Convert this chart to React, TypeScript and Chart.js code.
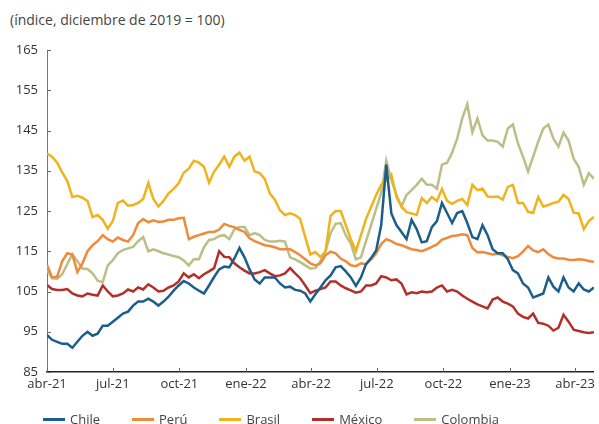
import React, { useEffect, useRef } from "react";
import { Chart, registerables } from "chart.js";

Chart.register(...registerables);

// Weekly observations starting 1 Apr 2021 (x = days since start)
const STEP_DAYS = 7;
const tickDays = [0, 91, 183, 275, 365, 456, 548, 640, 730];
const tickLabels = ["abr-21", "jul-21", "oct-21", "ene-22", "abr-22", "jul-22", "oct-22", "ene-23", "abr-23"];
const yTicks = [85, 95, 105, 115, 125, 135, 145, 155, 165];

const chile = [
  94.2, 93, 92.5, 92, 92, 91, 92.5, 94, 95, 94, 94.5, 96.5, 96.5, 97.5, 98.5, 99.5, 100, 101.5, 102.5,
  102.5, 103.2, 102.5, 101.5, 102.5, 103.7, 105.2, 106.5, 107.6, 107, 106, 105.2, 104.5, 106.5, 108.6, 110.5, 111.2, 111,
  113.2, 115.8, 113.5, 110.5, 108, 107, 108.5, 108.5, 108.5, 107, 106,
  106.2, 105.4, 105.2, 104.5, 102.5, 104.3, 106, 107.8, 109, 111, 111.3, 110, 108.5, 106.4, 108.5, 111.8, 113.3, 115.2, 121.5,
  136.5,
  124.4, 121.5, 119.8, 118, 122.8, 120.5, 117.2, 117.5, 121, 122.5, 127, 124.5, 122, 124.5, 125, 122, 118.5, 118, 121.5, 119, 115.5, 114.5, 114.5, 113,
  110.3, 109.5, 107, 106, 103.5, 104, 104.5, 108.5, 106.2, 105, 108.5, 106, 105, 107, 105.5, 105, 106,
];
const peru = [
  111.6, 108.5, 108.7, 112.5, 114.5, 114.2, 109.8, 112, 115, 116.5, 117.5, 119, 118, 117.4, 118.4, 117.8, 117.4, 119, 122,
  123, 122.2, 122.7, 122.3, 122.4, 122.8, 122.8, 123.2, 123.3, 118, 118.6, 119, 119.4, 119.8, 119.8, 120.4, 121.8, 121.3,
  121, 120.3, 119.8, 118.2, 117.5, 117, 116.5, 116.3, 116, 115.5, 115.5,
  115.5, 114.8, 114, 113, 112, 111.5, 112, 114, 114.9, 114.5, 113.2, 112.5, 111.5, 111.3, 112, 111.8, 113, 114.5, 116.8, 118,
  117.5, 116.8, 116.5, 116, 115.5, 115.3, 115,
  115.5, 116.1, 116.7, 117.9, 118.3, 118.8, 118.9, 119.2, 119, 115.8, 114.7, 114.8, 114.5, 114.2, 114.4, 114, 113.6,
  113.3, 113.8, 114.9, 116.3, 115.2, 114.8, 115.5, 114.3, 113.5, 113.2, 113.2, 112.9, 112.8, 113, 112.9, 112.6, 112.3,
];
const brasil = [
  139.3, 138.5, 137, 134.6, 132.5, 128.5, 128.8, 128.3, 127.5, 123.5, 124, 122.8, 120.6, 122.5, 127, 127.6, 126.3, 126.5, 127,
  128, 132, 128, 126.1, 127.5, 129.4, 130.5, 131.9, 134.5, 135.5, 137.5, 137, 136, 132, 134.8, 136.5, 138.5, 136,
  138.5, 139.5, 137.5, 138.5, 134.8, 134.4, 133, 129.4, 127.8, 125.2, 124,
  124.4, 124, 123, 118.5, 114.2, 114.8, 113.6, 115, 123.8, 125, 125, 121.5, 118, 115, 119, 123, 126, 129, 131.5,
  132.5, 134, 128.5, 126.1, 124.7, 124.4, 124, 128.2, 127, 128.5, 127.5, 130.5, 127.5, 126.8, 127.5, 128, 126.5, 131.5, 130.2, 130.6, 128.6, 128.5, 128.6, 127.8, 131,
  131.5, 127, 127, 124.8, 124.5, 128.5, 126.1, 126.5, 127, 127.3, 129, 128, 124.6, 124.4, 120.5, 122.5, 123.5,
];
const mexico = [
  106.6, 105.6, 105.4, 105.4, 105.6, 104.5, 104, 103.8, 104.5, 104.2, 104, 106.5, 105, 103.8, 104, 104.5, 105.5, 105, 106,
  105.5, 106.8, 106, 105, 105.2, 106, 106.5, 107.5, 109.5, 108.5, 109.3, 108.3, 109.3, 110, 110.8, 115, 113.6, 113.5,
  112, 111, 110.2, 109.5, 109.5, 109.8, 110.3, 109.5, 108.8, 109, 109.5,
  110.8, 109.5, 108.3, 106.5, 104.6, 105.2, 105.6, 106, 107.5, 107.5, 106.5, 105.8, 105.3, 104.7, 105, 106.5, 106.5, 107, 108.8, 108.5,
  107.8, 108, 107, 104.3, 104.8, 104.6, 105, 104.8, 105, 106, 106.5, 105, 105.4, 105, 104, 103.2, 102.5, 101.8, 101.3, 100.8, 103, 103.5, 102.5, 102,
  101.3, 99.5, 98.7, 98.3, 99.5, 97.2, 97, 96.5, 95.3, 96, 99.2, 97.5, 95.5, 95.2, 94.9, 94.7, 94.9,
];
const colombia = [
  110.3, 108.3, 108.2, 109.3, 111.8, 114.3, 112.5, 110.7, 110.6, 109.5, 107.7, 107.3, 111.5, 112.8, 114.5, 115.3, 115.7, 116.1, 117.5,
  118.5, 115, 115.5, 115, 114.5, 114.2, 113.8, 113.5, 112.7, 111.5, 113, 113, 116, 117.8, 118, 118.8, 119, 118,
  120.5, 121, 121, 119, 119.5, 119, 117.8, 117.4, 117.4, 117.6, 117.4,
  113.5, 113, 112.3, 111.5, 110.7, 110.8, 112.5, 115, 119.5, 121.8, 122, 119, 116.9, 113, 113.5, 117.5, 121.5, 125.5, 129.5,
  137.5, 132.7, 129, 126.1, 129, 130.2, 131.5, 133, 131.5, 131.5, 130.5, 136.5, 137, 139.5, 143, 148, 151.5, 144.5, 148, 143.8, 142.5, 142.5, 142.2, 141,
  145.5, 146.5, 141.8, 138.5, 134.8, 138.5, 142.2, 145.5, 146.5, 143, 141, 144.5, 142.5, 138, 136, 131.5, 134.4, 133,
];

const seriesNames = ["Chile", "Perú", "Brasil", "México", "Colombia"];
const seriesColors = ["#1b5e8c", "#ef8a3a", "#f0b31c", "#b3302a", "#bcbe88"];
const seriesValues = [chile, peru, brasil, mexico, colombia];

const FONT = "'Open Sans', sans-serif";

const innerTicks = {
  id: "innerTicks",
  afterDraw(chart: any) {
    const { ctx, chartArea, scales } = chart;
    ctx.save();
    ctx.strokeStyle = "#666";
    ctx.lineWidth = 1;
    scales.y.ticks.forEach((t: any) => {
      const y = Math.round(scales.y.getPixelForValue(t.value)) + 0.5;
      ctx.beginPath();
      ctx.moveTo(chartArea.left, y);
      ctx.lineTo(chartArea.left + 4, y);
      ctx.stroke();
    });
    scales.x.ticks.forEach((t: any) => {
      const x = Math.round(scales.x.getPixelForValue(t.value)) + 0.5;
      ctx.beginPath();
      ctx.moveTo(x, chartArea.bottom);
      ctx.lineTo(x, chartArea.bottom - 4);
      ctx.stroke();
    });
    ctx.restore();
  },
};

export default function App() {
  const ref = useRef<HTMLCanvasElement | null>(null);

  useEffect(() => {
    if (!ref.current) return;
    const datasets = seriesNames.map((name, i) => ({
      label: name,
      data: seriesValues[i].map((v, k) => ({ x: k * STEP_DAYS, y: v })),
      borderColor: seriesColors[i],
      backgroundColor: seriesColors[i],
      borderWidth: 2.5,
      pointRadius: 0,
      tension: 0,
      fill: false,
    }));
    const chart = new Chart(ref.current, {
      type: "line",
      data: { datasets },
      plugins: [innerTicks],
      options: {
        animation: false,
        responsive: false,
        devicePixelRatio: 1,
        layout: { padding: { top: 50, right: 4, bottom: 0, left: 0 } },
        plugins: { legend: { display: false }, tooltip: { enabled: false }, title: { display: false } },
        scales: {
          x: {
            type: "linear",
            min: 0,
            max: 756,
            afterFit: (s: any) => { s.height = 28; },
            afterBuildTicks: (s: any) => { s.ticks = tickDays.map((v) => ({ value: v })); },
            ticks: {
              autoSkip: false,
              maxRotation: 0,
              padding: 4,
              color: "#333",
              font: { family: FONT, size: 13 },
              callback: (v: any) => {
                const i = tickDays.indexOf(Number(v));
                return i >= 0 ? tickLabels[i] : "";
              },
            },
            grid: { display: true, drawOnChartArea: false, drawTicks: false },
            border: { display: true, color: "#222", width: 1.5 },
          },
          y: {
            type: "linear",
            min: 85,
            max: 165,
            afterFit: (s: any) => { s.width = 47; },
            afterBuildTicks: (s: any) => { s.ticks = yTicks.map((v) => ({ value: v })); },
            ticks: {
              padding: 9,
              color: "#333",
              font: { family: FONT, size: 13 },
            },
            grid: { display: true, drawOnChartArea: false, drawTicks: false },
            border: { display: true, color: "#777", width: 1 },
          },
        },
      },
    });
    return () => chart.destroy();
  }, []);

  return (
    <div style={{ position: "fixed", left: 0, top: 0, width: 599, height: 424, background: "#fff", fontFamily: FONT }}>
      <div style={{ position: "absolute", left: 10, top: 10, fontSize: 14, lineHeight: "19px", color: "#444", whiteSpace: "nowrap" }}>
        (índice, diciembre de 2019 = 100)
      </div>
      <canvas ref={ref} width={599} height={400} style={{ position: "absolute", left: 0, top: 0, width: 599, height: 400 }} />
      <div style={{ position: "absolute", left: 43, top: 410, height: 18, display: "flex", alignItems: "center", gap: 32, fontSize: 13, color: "#444", whiteSpace: "nowrap" }}>
        {seriesNames.map((n, i) => (
          <div key={n} style={{ display: "flex", alignItems: "center" }}>
            <span style={{ display: "inline-block", width: 22, height: 3, background: seriesColors[i], marginRight: 5 }} />
            <span style={{ lineHeight: "18px" }}>{n}</span>
          </div>
        ))}
      </div>
    </div>
  );
}
